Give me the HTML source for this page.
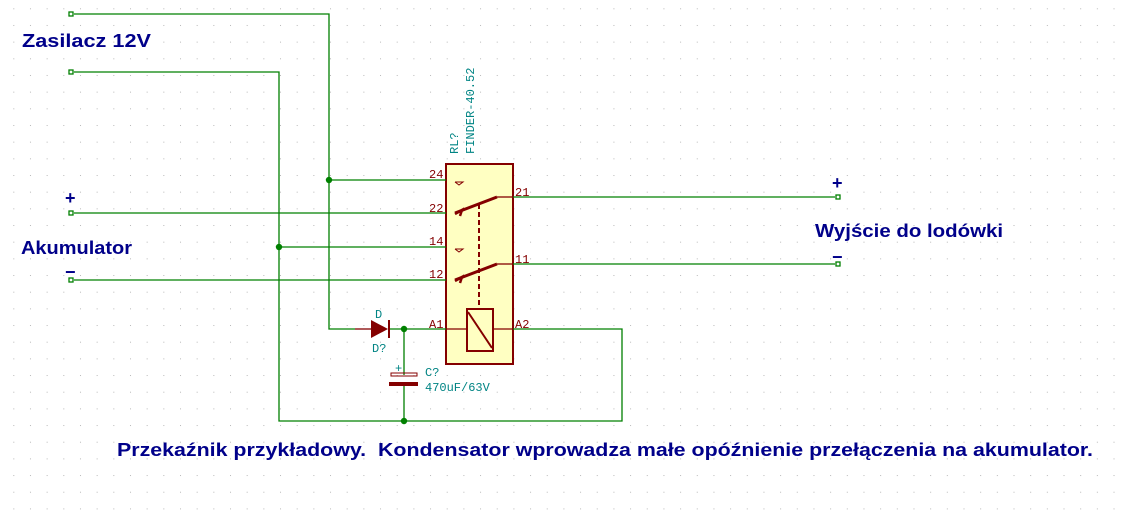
<!DOCTYPE html>
<html><head><meta charset="utf-8"><style>
html,body{margin:0;padding:0;background:#fff;}
svg{display:block;}
.t{font-family:"Liberation Sans",sans-serif;font-weight:bold;fill:#00008a;}
.p{font-family:"Liberation Mono",monospace;fill:#840000;font-size:12px;}
.c{font-family:"Liberation Mono",monospace;fill:#008484;font-size:12px;}
</style></head><body>
<svg width="1129" height="518" viewBox="0 0 1129 518" xmlns="http://www.w3.org/2000/svg">
<defs>
<pattern id="g" x="13.3" y="8.3" width="16.67" height="16.67" patternUnits="userSpaceOnUse">
<rect x="0" y="0" width="1" height="1" fill="#b8b8b8"/>
</pattern>
</defs>
<rect width="1129" height="518" fill="#fff"/>
<rect width="1129" height="518" fill="url(#g)"/>
<rect x="446" y="164" width="67" height="200" fill="#ffffc2" stroke="#840000" stroke-width="2"/>
<g stroke="#008000" stroke-width="1.3" fill="none">
<polyline points="74,14 329,14 329,329 355,329"/>
<line x1="329" y1="180" x2="446" y2="180"/>
<polyline points="74,72 279,72 279,421 622,421 622,329 513,329"/>
<line x1="279" y1="247" x2="446" y2="247"/>
<line x1="74" y1="213" x2="446" y2="213"/>
<line x1="74" y1="280" x2="446" y2="280"/>
<line x1="513" y1="197" x2="835" y2="197"/>
<line x1="513" y1="264" x2="835" y2="264"/>
<line x1="389" y1="329" x2="446" y2="329"/>
<line x1="404" y1="329" x2="404" y2="375"/>
<line x1="404" y1="386" x2="404" y2="421"/>
<rect x="69" y="12" width="4" height="4"/>
<rect x="69" y="70" width="4" height="4"/>
<rect x="69" y="211" width="4" height="4"/>
<rect x="69" y="278" width="4" height="4"/>
<rect x="836" y="195" width="4" height="4"/>
<rect x="836" y="262" width="4" height="4"/>
</g>
<g fill="#008000">
<circle cx="329" cy="180" r="3.2"/>
<circle cx="279" cy="247" r="3.2"/>
<circle cx="404" cy="329" r="3.2"/>
<circle cx="404" cy="421" r="3.2"/>
</g>
<g stroke="#840000" fill="none">
<line x1="455" y1="213" x2="497" y2="197" stroke-width="3"/>
<line x1="497" y1="197" x2="513" y2="197" stroke-width="1.3"/>
<line x1="455" y1="280" x2="497" y2="264" stroke-width="3"/>
<line x1="497" y1="264" x2="513" y2="264" stroke-width="1.3"/>
<line x1="479" y1="204" x2="479" y2="309" stroke-width="2" stroke-dasharray="5,3"/>
<rect x="467" y="309" width="26" height="42" stroke-width="2"/>
<line x1="468" y1="312" x2="492" y2="348" stroke-width="2"/>
<line x1="446" y1="329" x2="467" y2="329" stroke-width="1.3"/>
<line x1="493" y1="329" x2="513" y2="329" stroke-width="1.3"/>
<polyline points="455,182 463,182 459,185 455,182" stroke-width="1"/>
<polyline points="455,249 463,249 459,252 455,249" stroke-width="1"/>
<polyline points="455,214 462,210 460,216" stroke-width="2.5"/>
<polyline points="455,281 462,277 460,283" stroke-width="2.5"/>
<line x1="355" y1="329" x2="371" y2="329" stroke-width="1.3"/>
<line x1="389" y1="320" x2="389" y2="338" stroke-width="2"/>
<rect x="391" y="373" width="26" height="3" stroke-width="1"/>
</g>
<polygon points="371,320 371,338 388,329" fill="#840000"/>
<rect x="389" y="382" width="29" height="4" fill="#840000"/>
<text class="p" x="429" y="178">24</text>
<text class="p" x="429" y="212">22</text>
<text class="p" x="429" y="245">14</text>
<text class="p" x="429" y="278">12</text>
<text class="p" x="515" y="196">21</text>
<text class="p" x="515" y="263">11</text>
<text class="p" x="429" y="328">A1</text>
<text class="p" x="515" y="328">A2</text>
<text class="c" x="375" y="318">D</text>
<text class="c" x="372" y="352">D?</text>
<text class="c" x="395" y="372" font-size="10">+</text>
<text class="c" x="425" y="376">C?</text>
<text class="c" x="425" y="391">470uF/63V</text>
<text class="c" transform="translate(458,154) rotate(-90)">RL?</text>
<text class="c" transform="translate(474,154) rotate(-90)">FINDER-40.52</text>
<text class="t" x="22" y="47" font-size="18" textLength="129" lengthAdjust="spacingAndGlyphs">Zasilacz 12V</text>
<text class="t" x="21" y="254" font-size="18" textLength="111" lengthAdjust="spacingAndGlyphs">Akumulator</text>
<text class="t" x="65" y="204" font-size="18">+</text>
<text class="t" x="65" y="278" font-size="18">−</text>
<text class="t" x="832" y="189" font-size="18">+</text>
<text class="t" x="832" y="263" font-size="18">−</text>
<text class="t" x="815" y="237" font-size="18" textLength="188" lengthAdjust="spacingAndGlyphs">Wyjście do lodówki</text>
<text class="t" x="117" y="456" font-size="18" textLength="976" lengthAdjust="spacingAndGlyphs" xml:space="preserve">Przekaźnik przykładowy.  Kondensator wprowadza małe opóźnienie przełączenia na akumulator.</text>
</svg>
</body></html>
